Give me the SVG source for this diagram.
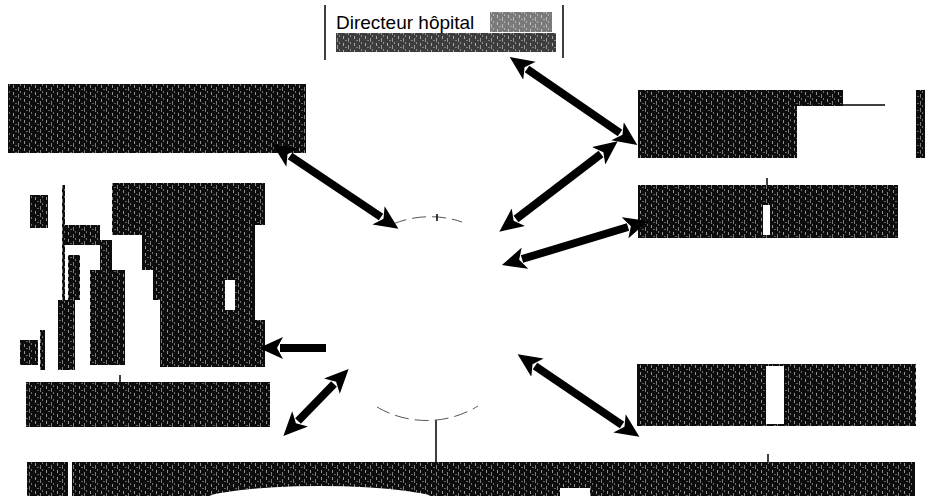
<svg xmlns="http://www.w3.org/2000/svg" width="925" height="504" viewBox="0 0 925 504">
<style>
.dark{fill:url(#noise)}
.conn{stroke:#000;stroke-width:8;fill:none}
.arc{stroke:#555;stroke-width:1;fill:none;stroke-dasharray:14 6}
.line{stroke:#000;stroke-width:1.5}
</style>
<defs>
<pattern id="noise" width="11" height="7" patternUnits="userSpaceOnUse">
<rect width="11" height="7" fill="#0d0d0d"/>
<rect x="2" y="1" width="1" height="3" fill="#fff" opacity="0.55"/>
<rect x="7" y="3" width="1" height="4" fill="#fff" opacity="0.45"/>
<rect x="9" y="0" width="1" height="2" fill="#fff" opacity="0.4"/>
<rect x="4" y="5" width="2" height="1" fill="#fff" opacity="0.35"/>
</pattern>
<marker id="ah" viewBox="0 0 24 22" refX="3" refY="11" markerWidth="24" markerHeight="22" markerUnits="userSpaceOnUse" orient="auto-start-reverse">
<path d="M24,11 L0,0 L6,11 L0,22 Z" fill="#000"/>
</marker>
</defs>
<rect width="925" height="504" fill="#fff"/>

<g id="directeur">
<line class="line" x1="325" y1="5" x2="325" y2="60"/>
<line class="line" x1="563" y1="5" x2="563" y2="58"/>
<text x="336" y="29" font-family="Liberation Sans, Arial, sans-serif" font-size="19" fill="#000">Directeur hôpital</text>
<rect class="dark" x="336" y="33" width="220" height="19" opacity="0.8"/>
<rect class="dark" x="490" y="12" width="62" height="20" opacity="0.55"/>
</g>

<g id="box-top-left">
<rect class="dark" x="8" y="84" width="298" height="69"/>
</g>

<g id="box-right-top">
<rect class="dark" x="638" y="90" width="159" height="68"/>
<rect class="dark" x="797" y="90" width="46" height="16"/>
<line class="line" x1="843" y1="105" x2="885" y2="105" stroke-width="2"/>
<rect class="dark" x="916" y="90" width="9" height="68"/>
</g>

<g id="box-right-mid">
<rect class="dark" x="638" y="185" width="260" height="53"/>
<rect x="763" y="205" width="7" height="30" fill="#fff"/>
<line class="line" x1="767" y1="178" x2="767" y2="185"/>
</g>

<g id="box-left-big">
<polygon class="dark" points="112,183 265,183 265,225 255,225 255,320 265,320 265,367 160,367 160,300 153,300 153,270 142,270 142,235 112,235"/>
<rect x="225" y="280" width="10" height="30" fill="#fff"/>
<rect class="dark" x="30" y="195" width="18" height="33"/>
<rect class="dark" x="62" y="185" width="3" height="185"/>
<rect class="dark" x="65" y="225" width="35" height="20"/>
<rect class="dark" x="68" y="255" width="12" height="45"/>
<rect class="dark" x="90" y="270" width="35" height="95"/>
<rect class="dark" x="58" y="300" width="17" height="70"/>
<rect class="dark" x="100" y="240" width="12" height="70"/>
<rect class="dark" x="40" y="330" width="5" height="40"/>
<rect class="dark" x="20" y="340" width="18" height="25"/>
</g>

<g id="box-bottom-left">
<rect class="dark" x="26" y="382" width="244" height="45"/>
<line class="line" x1="120" y1="375" x2="120" y2="382"/>
</g>

<g id="box-bottom-right">
<rect class="dark" x="637" y="364" width="279" height="62"/>
<rect x="766" y="366" width="18" height="58" fill="#fff"/>
</g>

<g id="box-bottom">
<rect class="dark" x="27" y="462" width="888" height="34"/>
<rect x="68" y="462" width="4" height="34" fill="#fff"/>
<ellipse cx="320" cy="502" rx="120" ry="16" fill="#fff"/>
<rect x="560" y="488" width="30" height="8" fill="#fff"/>
<line class="line" x1="436" y1="420" x2="436" y2="462"/>
<line class="line" x1="768" y1="454" x2="768" y2="462"/>
</g>

<g id="centre">
<path class="arc" d="M393,224 A98,98 0 0 1 462,222"/>
<path class="arc" d="M377,407 A98,98 0 0 0 478,406"/>
<line class="line" x1="437" y1="214" x2="437" y2="221"/>
</g>

<g id="connectors">
<line class="conn" x1="527" y1="69" x2="620" y2="133" marker-start="url(#ah)" marker-end="url(#ah)"/>
<line class="conn" x1="290" y1="156" x2="381" y2="217" marker-start="url(#ah)" marker-end="url(#ah)"/>
<line class="conn" x1="601" y1="154" x2="516" y2="219" marker-start="url(#ah)" marker-end="url(#ah)"/>
<line class="conn" x1="628" y1="227" x2="522" y2="259" marker-start="url(#ah)" marker-end="url(#ah)"/>
<line class="conn" x1="326" y1="348" x2="280" y2="348" marker-end="url(#ah)"/>
<line class="conn" x1="334" y1="384" x2="298" y2="421" marker-start="url(#ah)" marker-end="url(#ah)"/>
<line class="conn" x1="535" y1="366" x2="622" y2="425" marker-start="url(#ah)" marker-end="url(#ah)"/>
</g>
</svg>
